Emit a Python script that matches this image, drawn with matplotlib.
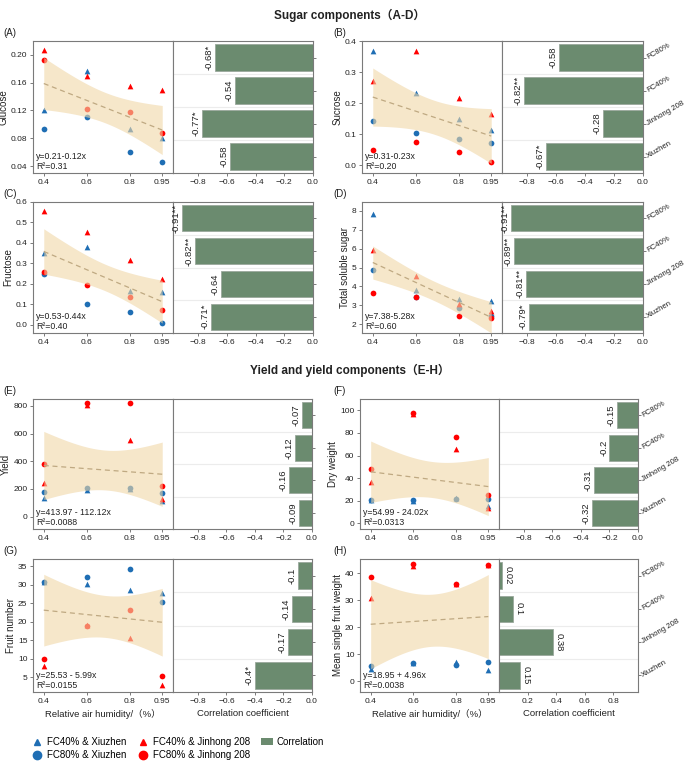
import numpy as np
import matplotlib
matplotlib.use('Agg')
import matplotlib.pyplot as plt
from matplotlib.lines import Line2D
from matplotlib.patches import Patch

plt.rcParams['font.family'] = ['Liberation Sans', 'Noto Sans CJK SC', 'DejaVu Sans']

# ---------------- data ----------------
humidity = [0.4, 0.6, 0.8, 0.95]
humidity_labels = ['0.4', '0.6', '0.8', '0.95']
categories = ['FC80%', 'FC40%', 'Jinhong 208', 'Xiuzhen']
series_names = ['FC40% & Xiuzhen', 'FC80% & Xiuzhen', 'FC40% & Jinhong 208', 'FC80% & Jinhong 208']

glucose_fc40_xiu = [0.120, 0.177, 0.093, 0.080]
glucose_fc80_xiu = [0.094, 0.110, 0.060, 0.046]
glucose_fc40_jin = [0.207, 0.170, 0.155, 0.149]
glucose_fc80_jin = [0.192, 0.122, 0.118, 0.088]
glucose_corr = [-0.68, -0.54, -0.77, -0.58]
glucose_corr_labels = ['-0.68*', '-0.54', '-0.77*', '-0.58']

sucrose_fc40_xiu = [0.367, 0.234, 0.149, 0.113]
sucrose_fc80_xiu = [0.141, 0.103, 0.084, 0.070]
sucrose_fc40_jin = [0.272, 0.367, 0.218, 0.165]
sucrose_fc80_jin = [0.050, 0.076, 0.042, 0.012]
sucrose_corr = [-0.58, -0.82, -0.28, -0.67]
sucrose_corr_labels = ['-0.58', '-0.82**', '-0.28', '-0.67*']

fructose_fc40_xiu = [0.351, 0.378, 0.163, 0.158]
fructose_fc80_xiu = [0.247, 0.100, 0.064, 0.008]
fructose_fc40_jin = [0.558, 0.453, 0.318, 0.225]
fructose_fc80_jin = [0.258, 0.194, 0.134, 0.073]
fructose_corr = [-0.91, -0.82, -0.64, -0.71]
fructose_corr_labels = ['-0.91**', '-0.82**', '-0.64', '-0.71*']

tss_fc40_xiu = [7.84, 3.84, 3.36, 3.23]
tss_fc80_xiu = [4.86, 3.45, 2.88, 2.44]
tss_fc40_jin = [5.93, 4.55, 3.08, 2.70]
tss_fc80_jin = [3.68, 3.42, 2.44, 2.35]
tss_corr = [-0.91, -0.89, -0.81, -0.79]
tss_corr_labels = ['-0.91**', '-0.89**', '-0.81**', '-0.79*']

yield_fc40_xiu = [136, 192, 201, 113]
yield_fc80_xiu = [180, 208, 206, 172]
yield_fc40_jin = [242, 805, 556, 125]
yield_fc80_jin = [378, 819, 824, 223]
yield_corr = [-0.07, -0.12, -0.16, -0.09]
yield_corr_labels = ['-0.07', '-0.12', '-0.16', '-0.09']

dry_fc40_xiu = [20.6, 19.4, 22.0, 15.0]
dry_fc80_xiu = [21.0, 20.3, 21.7, 21.2]
dry_fc40_jin = [36.5, 97.0, 65.5, 13.3]
dry_fc80_jin = [47.8, 98.0, 76.0, 25.0]
dry_corr = [-0.15, -0.2, -0.31, -0.32]
dry_corr_labels = ['-0.15', '-0.2', '-0.31', '-0.32']

fruitn_fc40_xiu = [30.9, 30.2, 28.5, 27.7]
fruitn_fc80_xiu = [30.7, 32.0, 34.3, 25.4]
fruitn_fc40_jin = [8.0, 19.2, 15.7, 3.0]
fruitn_fc80_jin = [10.0, 18.9, 23.3, 5.3]
fruitn_corr = [-0.1, -0.14, -0.17, -0.4]
fruitn_corr_labels = ['-0.1', '-0.14', '-0.17', '-0.4*']

sfw_fc40_xiu = [4.6, 6.6, 7.1, 4.2]
sfw_fc80_xiu = [5.8, 6.6, 6.1, 7.0]
sfw_fc40_jin = [30.7, 42.7, 35.8, 42.9]
sfw_fc80_jin = [38.4, 43.2, 36.0, 43.1]
sfw_corr = [0.02, 0.1, 0.38, 0.15]
sfw_corr_labels = ['0.02', '0.1', '0.38', '0.15']

panels = [
    dict(tag='(A)', ylabel='Glucose', series=[glucose_fc40_xiu, glucose_fc80_xiu, glucose_fc40_jin, glucose_fc80_jin],
         corr=glucose_corr, clab=glucose_corr_labels, eq='y=0.21-0.12x\nR²=0.31',
         ylim=(0.03, 0.22), yticks=[0.04, 0.08, 0.12, 0.16, 0.20], yfmt='{:.2f}'),
    dict(tag='(B)', ylabel='Sucrose', series=[sucrose_fc40_xiu, sucrose_fc80_xiu, sucrose_fc40_jin, sucrose_fc80_jin],
         corr=sucrose_corr, clab=sucrose_corr_labels, eq='y=0.31-0.23x\nR²=0.20',
         ylim=(-0.025, 0.4), yticks=[0.0, 0.1, 0.2, 0.3, 0.4], yfmt='{:.1f}'),
    dict(tag='(C)', ylabel='Fructose', series=[fructose_fc40_xiu, fructose_fc80_xiu, fructose_fc40_jin, fructose_fc80_jin],
         corr=fructose_corr, clab=fructose_corr_labels, eq='y=0.53-0.44x\nR²=0.40',
         ylim=(-0.04, 0.6), yticks=[0.0, 0.1, 0.2, 0.3, 0.4, 0.5, 0.6], yfmt='{:.1f}'),
    dict(tag='(D)', ylabel='Total soluble sugar', series=[tss_fc40_xiu, tss_fc80_xiu, tss_fc40_jin, tss_fc80_jin],
         corr=tss_corr, clab=tss_corr_labels, eq='y=7.38-5.28x\nR²=0.60',
         ylim=(1.55, 8.45), yticks=[2, 3, 4, 5, 6, 7, 8], yfmt='{:.0f}'),
    dict(tag='(E)', ylabel='Yield', series=[yield_fc40_xiu, yield_fc80_xiu, yield_fc40_jin, yield_fc80_jin],
         corr=yield_corr, clab=yield_corr_labels, eq='y=413.97 - 112.12x\nR²=0.0088',
         ylim=(-90, 850), yticks=[0, 200, 400, 600, 800], yfmt='{:.0f}'),
    dict(tag='(F)', ylabel='Dry weight', series=[dry_fc40_xiu, dry_fc80_xiu, dry_fc40_jin, dry_fc80_jin],
         corr=dry_corr, clab=dry_corr_labels, eq='y=54.99 - 24.02x\nR²=0.0313',
         ylim=(-5, 110), yticks=[0, 20, 40, 60, 80, 100], yfmt='{:.0f}'),
    dict(tag='(G)', ylabel='Fruit number', series=[fruitn_fc40_xiu, fruitn_fc80_xiu, fruitn_fc40_jin, fruitn_fc80_jin],
         corr=fruitn_corr, clab=fruitn_corr_labels, eq='y=25.53 - 5.99x\nR²=0.0155',
         ylim=(1, 37), yticks=[5, 10, 15, 20, 25, 30, 35], yfmt='{:.0f}'),
    dict(tag='(H)', ylabel='Mean single fruit weight', series=[sfw_fc40_xiu, sfw_fc80_xiu, sfw_fc40_jin, sfw_fc80_jin],
         corr=sfw_corr, clab=sfw_corr_labels, eq='y=18.95 + 4.96x\nR²=0.0038',
         ylim=(-4, 45.2), yticks=[0, 10, 20, 30, 40], yfmt='{:.0f}'),
]

# pixel boxes (left, top, right, bottom) for scatter and bar axes
W, H = 688, 762
boxes = [
    ((33, 41, 173, 173), (173, 41, 313, 173)),
    ((362, 41, 502, 173), (502, 41, 643, 173)),
    ((33, 202, 173, 333), (173, 202, 313, 333)),
    ((362, 202, 502, 333), (502, 202, 643, 333)),
    ((33, 399, 173, 529), (173, 399, 312, 529)),
    ((360, 399, 499, 529), (499, 399, 638, 529)),
    ((33, 559, 173, 692), (173, 559, 312, 692)),
    ((360, 559, 499, 692), (499, 559, 638, 692)),
]

def rect(b):
    l, t, r, bt = b
    return [l / W, 1 - bt / H, (r - l) / W, (bt - t) / H]

BLUE = '#1F6EB4'
RED = '#FF0000'
BAND = '#F0D7A8'
LINE = '#BFA982'
BARC = '#6B8B6F'
SPINE = '#7A7A7A'
TXT = '#222222'
colors = [BLUE, BLUE, RED, RED]
markers = ['^', 'o', '^', 'o']

fig = plt.figure(figsize=(W / 100, H / 100), dpi=100)

def style_axes(ax):
    for s in ax.spines.values():
        s.set_color(SPINE)
        s.set_linewidth(0.8)
    ax.tick_params(colors=SPINE, labelcolor=TXT, labelsize=6, length=2.5, width=0.7, pad=1.5)

for i, p in enumerate(panels):
    sb, bb = boxes[i]
    ax = fig.add_axes(rect(sb))
    bx = fig.add_axes(rect(bb))
    style_axes(ax)
    style_axes(bx)

    xs_all, ys_all = [], []
    for k, ser in enumerate(p['series']):
        ax.scatter(humidity, ser, marker=markers[k], s=17, color=colors[k], linewidths=0, zorder=2)
        xs_all += humidity
        ys_all += ser
    x = np.array(xs_all, float)
    y = np.array(ys_all, float)
    n = len(x)
    b1, b0 = np.polyfit(x, y, 1)
    xg = np.linspace(min(humidity), max(humidity), 120)
    yg = b0 + b1 * xg
    resid = y - (b0 + b1 * x)
    s = np.sqrt(np.sum(resid ** 2) / (n - 2))
    sxx = np.sum((x - x.mean()) ** 2)
    se = s * np.sqrt(1 / n + (xg - x.mean()) ** 2 / sxx)
    tval = 2.145
    ax.fill_between(xg, yg - tval * se, yg + tval * se, color=BAND, alpha=0.6, lw=0, zorder=3)
    ax.plot(xg, yg, ls=(0, (4, 3)), color=LINE, lw=0.9, zorder=4)

    ax.set_xlim(0.35, 1.0)
    ax.set_xticks(humidity)
    ax.set_xticklabels(humidity_labels)
    ax.set_ylim(*p['ylim'])
    ax.set_yticks(p['yticks'])
    ax.set_yticklabels([p['yfmt'].format(v) for v in p['yticks']])
    ax.set_ylabel(p['ylabel'], fontsize=7, color=TXT, labelpad=1.5)
    ax.text(0.02, 0.015, p['eq'], transform=ax.transAxes, fontsize=6.3, color=TXT,
            ha='left', va='bottom', linespacing=1.1, zorder=5)

    # tag label
    l, t, r, bt = sb
    fig.text(3 / W if l < 100 else 333 / W, 1 - (t - 8) / H, p['tag'], fontsize=7, color=TXT,
             ha='left', va='center')

    # bars
    ypos = np.arange(len(categories))[::-1]
    positive = all(v >= 0 for v in p['corr'])
    for yb in [0.5, 1.5, 2.5]:
        bx.axhline(yb, color='#ECECEC', lw=0.8, zorder=0)
    bx.barh(ypos, p['corr'], height=0.8, color=BARC, edgecolor='#9AA89C', linewidth=0.6, zorder=2)
    for yv, v, lab in zip(ypos, p['corr'], p['clab']):
        if v < 0:
            bx.annotate(lab, (v, yv), xytext=(-1, 0), textcoords='offset points',
                        rotation=90, ha='right', va='center', fontsize=6.8, color=TXT)
        else:
            bx.annotate(lab, (v, yv), xytext=(1, 0), textcoords='offset points',
                        rotation=270, ha='left', va='center', fontsize=6.8, color=TXT)
    bx.set_ylim(-0.5, 3.5)
    if positive:
        bx.set_xlim(0, 0.975)
        bx.set_xticks([0.2, 0.4, 0.6, 0.8])
        bx.set_xticklabels(['0.2', '0.4', '0.6', '0.8'])
    else:
        bx.set_xlim(-0.975, 0)
        ticks = [-0.8, -0.6, -0.4, -0.2, 0.0]
        bx.set_xticks(ticks)
        bx.set_xticklabels(['\u22120.8', '\u22120.6', '\u22120.4', '\u22120.2', '0.0'])
    bx.yaxis.tick_right()
    bx.set_yticks(ypos)
    bx.tick_params(axis='y', pad=0.5)
    if i % 2 == 1:
        bx.set_yticklabels(categories, rotation=30, rotation_mode='anchor', ha='left', va='center',
                           fontsize=5.6)
    else:
        bx.set_yticklabels([])

    if i >= 6:
        ax.set_xlabel('Relative air humidity/（%）', fontsize=6.8, color=TXT, labelpad=3)
        bx.set_xlabel('Correlation coefficient', fontsize=6.8, color=TXT, labelpad=3)

fig.text(350 / W, 1 - 15 / H, 'Sugar components（A-D）', fontsize=8.5, fontweight='bold',
         ha='center', va='center', color=TXT)
fig.text(350 / W, 1 - 370 / H, 'Yield and yield components（E-H）', fontsize=8.5, fontweight='bold',
         ha='center', va='center', color=TXT)

handles = [
    Line2D([], [], marker='^', color=BLUE, ls='none', markersize=5),
    Line2D([], [], marker='o', color=BLUE, ls='none', markersize=6),
    Line2D([], [], marker='^', color=RED, ls='none', markersize=5),
    Line2D([], [], marker='o', color=RED, ls='none', markersize=6),
    Patch(facecolor=BARC, edgecolor='none'),
]
fig.legend(handles, series_names + ['Correlation'], ncol=3, loc='upper left',
           bbox_to_anchor=(31 / W, 1 - 737 / H), frameon=False, fontsize=7,
           handlelength=1.2, handletextpad=0.4, columnspacing=1.15, labelspacing=0.35,
           borderaxespad=0, borderpad=0)

fig.savefig('out.png', dpi=100)
